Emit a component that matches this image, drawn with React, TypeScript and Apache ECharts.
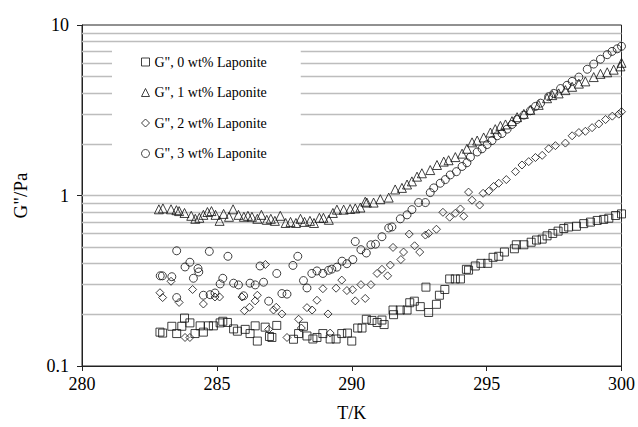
import React, { useEffect, useRef } from "react";
import * as echarts from "echarts";

const xTicks = { min: 280, max: 300, step: 5 };
const yRange = { min: 0.1, max: 10 };
const gridValues = [0.2, 0.3, 0.4, 0.5, 0.6, 0.7, 0.8, 0.9, 1, 2, 3, 4, 5, 6, 7, 8, 9];

const seriesNames = [
  'G", 0 wt% Laponite',
  'G", 1 wt% Laponite',
  'G", 2 wt% Laponite',
  'G", 3 wt% Laponite',
];

// [T/K, G''/Pa]
const lap0: [number, number][] = [
  [282.89, 0.158], [282.99, 0.156], [283.33, 0.171], [283.51, 0.155], [283.7, 0.171], [283.8, 0.191],
  [284.0, 0.179], [284.19, 0.155], [284.38, 0.172], [284.5, 0.158], [284.69, 0.172], [284.87, 0.172],
  [285.12, 0.179], [285.22, 0.183], [285.39, 0.18], [285.62, 0.165], [285.76, 0.16], [286.05, 0.164],
  [286.23, 0.155], [286.42, 0.172], [286.5, 0.14], [286.79, 0.169], [286.95, 0.149], [287.04, 0.147],
  [287.22, 0.173], [287.84, 0.1435], [288.03, 0.155], [288.21, 0.171], [288.34, 0.15], [288.56, 0.144],
  [288.71, 0.147], [288.93, 0.155], [289.2, 0.144], [289.42, 0.144], [289.63, 0.155], [289.84, 0.156],
  [290.0, 0.14], [290.22, 0.167], [290.38, 0.167], [290.54, 0.188], [290.75, 0.185], [290.94, 0.18],
  [291.12, 0.186], [291.2, 0.175], [291.53, 0.213], [291.55, 0.2], [291.8, 0.213], [292.05, 0.213],
  [292.15, 0.235], [292.32, 0.24], [292.54, 0.223], [292.75, 0.29], [292.85, 0.206], [293.14, 0.23],
  [293.25, 0.26], [293.45, 0.281], [293.63, 0.324], [293.84, 0.324], [294.03, 0.324], [294.25, 0.369],
  [294.33, 0.365], [294.58, 0.386], [294.79, 0.4], [295.04, 0.4], [295.24, 0.434], [295.45, 0.44],
  [295.66, 0.466], [296.03, 0.487], [296.1, 0.514], [296.38, 0.514], [296.65, 0.532], [296.85, 0.548],
  [297.06, 0.555], [297.24, 0.58], [297.45, 0.599], [297.65, 0.618], [297.86, 0.64], [298.04, 0.654],
  [298.33, 0.66], [298.6, 0.684], [298.85, 0.698], [299.1, 0.714], [299.34, 0.724], [299.53, 0.736],
  [299.78, 0.763], [300.0, 0.78],
];

const lap1: [number, number][] = [
  [282.85, 0.83], [283.0, 0.84], [283.3, 0.83], [283.5, 0.82], [283.6, 0.81], [283.8, 0.79],
  [284.05, 0.76], [284.2, 0.73], [284.35, 0.74], [284.5, 0.77], [284.65, 0.8], [284.8, 0.81],
  [284.95, 0.77], [285.1, 0.71], [285.25, 0.78], [285.45, 0.75], [285.6, 0.83], [285.8, 0.77],
  [286.0, 0.75], [286.15, 0.76], [286.3, 0.75], [286.5, 0.73], [286.65, 0.77], [286.85, 0.72],
  [287.0, 0.73], [287.15, 0.71], [287.35, 0.76], [287.55, 0.69], [287.73, 0.7], [287.93, 0.69],
  [288.1, 0.73], [288.25, 0.7], [288.45, 0.71], [288.6, 0.69], [288.8, 0.74], [288.95, 0.74],
  [289.15, 0.72], [289.3, 0.79], [289.45, 0.826], [289.7, 0.826], [289.94, 0.834], [290.13, 0.84],
  [290.32, 0.85], [290.5, 0.92], [290.56, 0.909], [290.81, 0.909], [291.06, 0.951], [291.37, 0.972],
  [291.61, 1.085], [291.86, 1.108], [292.05, 1.16], [292.23, 1.21], [292.42, 1.29], [292.6, 1.35],
  [292.91, 1.41], [293.16, 1.51], [293.41, 1.58], [293.59, 1.61], [293.84, 1.68], [294.09, 1.76],
  [294.27, 1.88], [294.46, 2.05], [294.65, 2.1], [294.89, 2.19], [295.14, 2.34], [295.32, 2.45],
  [295.51, 2.56], [295.7, 2.61], [295.94, 2.73], [296.13, 2.88], [296.38, 3.01], [296.62, 3.18],
  [296.93, 3.4], [297.24, 3.72], [297.43, 3.88], [297.67, 3.97], [297.92, 4.15], [298.17, 4.34],
  [298.42, 4.53], [298.66, 4.67], [298.97, 4.95], [299.22, 5.17], [299.47, 5.28], [299.71, 5.47],
  [299.96, 5.72], [300.0, 6.0],
];

const lap2: [number, number][] = [
  [282.89, 0.269], [282.99, 0.252], [283.3, 0.314], [283.6, 0.236], [283.82, 0.147], [284.0, 0.147],
  [284.1, 0.281], [284.5, 0.231], [284.93, 0.254], [285.1, 0.254], [285.93, 0.254], [286.02, 0.211],
  [286.21, 0.221], [286.42, 0.241], [286.5, 0.26], [286.8, 0.394], [286.92, 0.164], [287.1, 0.213],
  [287.2, 0.221], [287.41, 0.202], [287.6, 0.147], [288.03, 0.188], [288.13, 0.167], [288.34, 0.22],
  [288.53, 0.213], [288.71, 0.243], [288.93, 0.284], [289.12, 0.202], [289.2, 0.156], [289.42, 0.286],
  [289.63, 0.319], [289.82, 0.277], [290.03, 0.28], [290.13, 0.241], [290.34, 0.3], [290.5, 0.249],
  [290.71, 0.3], [290.94, 0.349], [291.12, 0.369], [291.33, 0.338], [291.43, 0.391], [291.53, 0.496],
  [291.82, 0.421], [291.92, 0.466], [292.13, 0.594], [292.33, 0.507], [292.52, 0.466], [292.73, 0.586],
  [292.85, 0.599], [293.14, 0.634], [293.38, 0.797], [293.63, 0.746], [293.84, 0.787], [294.03, 0.834],
  [294.15, 0.756], [294.33, 1.047], [294.46, 0.938], [294.74, 0.879], [294.87, 1.03], [295.08, 1.06],
  [295.26, 1.13], [295.45, 1.18], [295.73, 1.24], [296.07, 1.38], [296.31, 1.51], [296.56, 1.58],
  [296.81, 1.67], [297.06, 1.72], [297.3, 1.88], [297.55, 1.96], [297.92, 2.03], [298.17, 2.24],
  [298.42, 2.34], [298.66, 2.38], [298.91, 2.5], [299.16, 2.63], [299.41, 2.79], [299.66, 2.92],
  [299.9, 3.0], [300.0, 3.1],
];

const lap3: [number, number][] = [
  [282.9, 0.338], [282.98, 0.338], [283.33, 0.334], [283.51, 0.474], [283.51, 0.252], [283.82, 0.381],
  [284.0, 0.406], [284.13, 0.327], [284.3, 0.373], [284.33, 0.356], [284.5, 0.26], [284.72, 0.47],
  [284.75, 0.262], [284.93, 0.268], [285.12, 0.303], [285.22, 0.327], [285.41, 0.44], [285.62, 0.306],
  [285.8, 0.299], [285.99, 0.258], [286.23, 0.306], [286.42, 0.299], [286.6, 0.386], [286.73, 0.31],
  [286.92, 0.24], [287.22, 0.349], [287.41, 0.266], [287.6, 0.264], [287.82, 0.389], [288.0, 0.44],
  [288.21, 0.317], [288.34, 0.287], [288.52, 0.349], [288.71, 0.361], [288.93, 0.349], [289.14, 0.364],
  [289.26, 0.37], [289.45, 0.38], [289.64, 0.412], [289.82, 0.398], [290.04, 0.421], [290.13, 0.537],
  [290.34, 0.481], [290.54, 0.46], [290.71, 0.514], [290.88, 0.518], [291.12, 0.573], [291.37, 0.645],
  [291.49, 0.654], [291.8, 0.73], [292.05, 0.77], [292.23, 0.826], [292.48, 0.909], [292.73, 0.909],
  [292.91, 1.04], [293.04, 1.108], [293.28, 1.18], [293.47, 1.24], [293.65, 1.32], [293.88, 1.38],
  [294.09, 1.48], [294.27, 1.556], [294.4, 1.68], [294.65, 1.8], [294.83, 1.88], [295.02, 1.99],
  [295.2, 2.1], [295.39, 2.24], [295.57, 2.31], [295.76, 2.45], [295.94, 2.61], [296.13, 2.79],
  [296.38, 2.96], [296.62, 3.14], [296.81, 3.33], [297.0, 3.48], [297.3, 3.8], [297.49, 3.97],
  [297.74, 4.24], [297.98, 4.43], [298.17, 4.67], [298.42, 4.95], [298.73, 5.5], [298.97, 5.9],
  [299.22, 6.3], [299.47, 6.7], [299.65, 7.0], [299.84, 7.25], [300.0, 7.5],
];

const seriesData = [lap0, lap1, lap2, lap3];
const symbols = ["rect", "triangle", "diamond", "circle"];
const symbolSizes = [8, 9, 8, 8];

const FONT = "'Liberation Serif', 'Times New Roman', serif";

export default function App() {
  const ref = useRef<HTMLDivElement>(null);
  useEffect(() => {
    if (!ref.current) return;
    const chart = echarts.init(ref.current, undefined, { renderer: "svg" });
    const hollow = {
      color: "rgba(0,0,0,0)",
      borderColor: "#111",
      borderWidth: 1,
    };
    chart.setOption({
      animation: false,
      backgroundColor: "#fff",
      textStyle: { fontFamily: FONT, color: "#000" },
      grid: {
        left: 82,
        right: 16,
        top: 25,
        bottom: 53,
        show: true,
        borderColor: "#222",
        borderWidth: 1,
        backgroundColor: "transparent",
      },
      legend: {
        data: seriesNames,
        orient: "vertical",
        left: 112,
        top: 46,
        z: 20,
        padding: [9, 34, 6, 29],
        itemGap: 16.5,
        itemWidth: 8,
        itemHeight: 8,
        backgroundColor: "#fff",
        textStyle: { fontFamily: FONT, fontSize: 14, color: "#000" },
        itemStyle: hollow,
      },
      xAxis: {
        type: "value",
        min: xTicks.min,
        max: xTicks.max,
        interval: xTicks.step,
        name: "T/K",
        nameLocation: "middle",
        nameGap: 38,
        nameTextStyle: { fontFamily: FONT, fontSize: 18, color: "#000" },
        axisLine: { show: true, lineStyle: { color: "#222", width: 1 } },
        axisTick: { show: true, length: 5, lineStyle: { color: "#222" } },
        axisLabel: { fontFamily: FONT, fontSize: 18, color: "#000", margin: 9 },
        splitLine: { show: false },
      },
      yAxis: {
        type: "log",
        logBase: 10,
        min: yRange.min,
        max: yRange.max,
        name: 'G"/Pa',
        nameLocation: "middle",
        nameGap: 52,
        nameTextStyle: { fontFamily: FONT, fontSize: 19, color: "#000" },
        axisLine: { show: true, lineStyle: { color: "#222", width: 1 } },
        axisTick: { show: true, length: 5, lineStyle: { color: "#222" } },
        axisLabel: {
          fontFamily: FONT,
          fontSize: 18,
          color: "#000",
          margin: 13,
          formatter: (v: number) => String(+v.toPrecision(3)),
        },
        splitLine: { show: false },
      },
      series: [
        {
          name: "grid",
          type: "scatter",
          data: [],
          z: 1,
          silent: true,
          markLine: {
            silent: true,
            z: 1,
            symbol: ["none", "none"],
            label: { show: false },
            lineStyle: { color: "#bdbdbd", width: 1.3, type: "solid" },
            data: gridValues.map((v) => ({ yAxis: v })),
          },
        },
        ...seriesData.map((d, i) => ({
          name: seriesNames[i],
          type: "scatter",
          symbol: symbols[i],
          symbolSize: symbolSizes[i],
          data: d,
          z: 3,
          itemStyle: hollow,
        })),
      ],
    });
    return () => chart.dispose();
  }, []);
  return (
    <div
      ref={ref}
      style={{ position: "fixed", left: 0, top: 0, width: 638, height: 427 }}
    />
  );
}
